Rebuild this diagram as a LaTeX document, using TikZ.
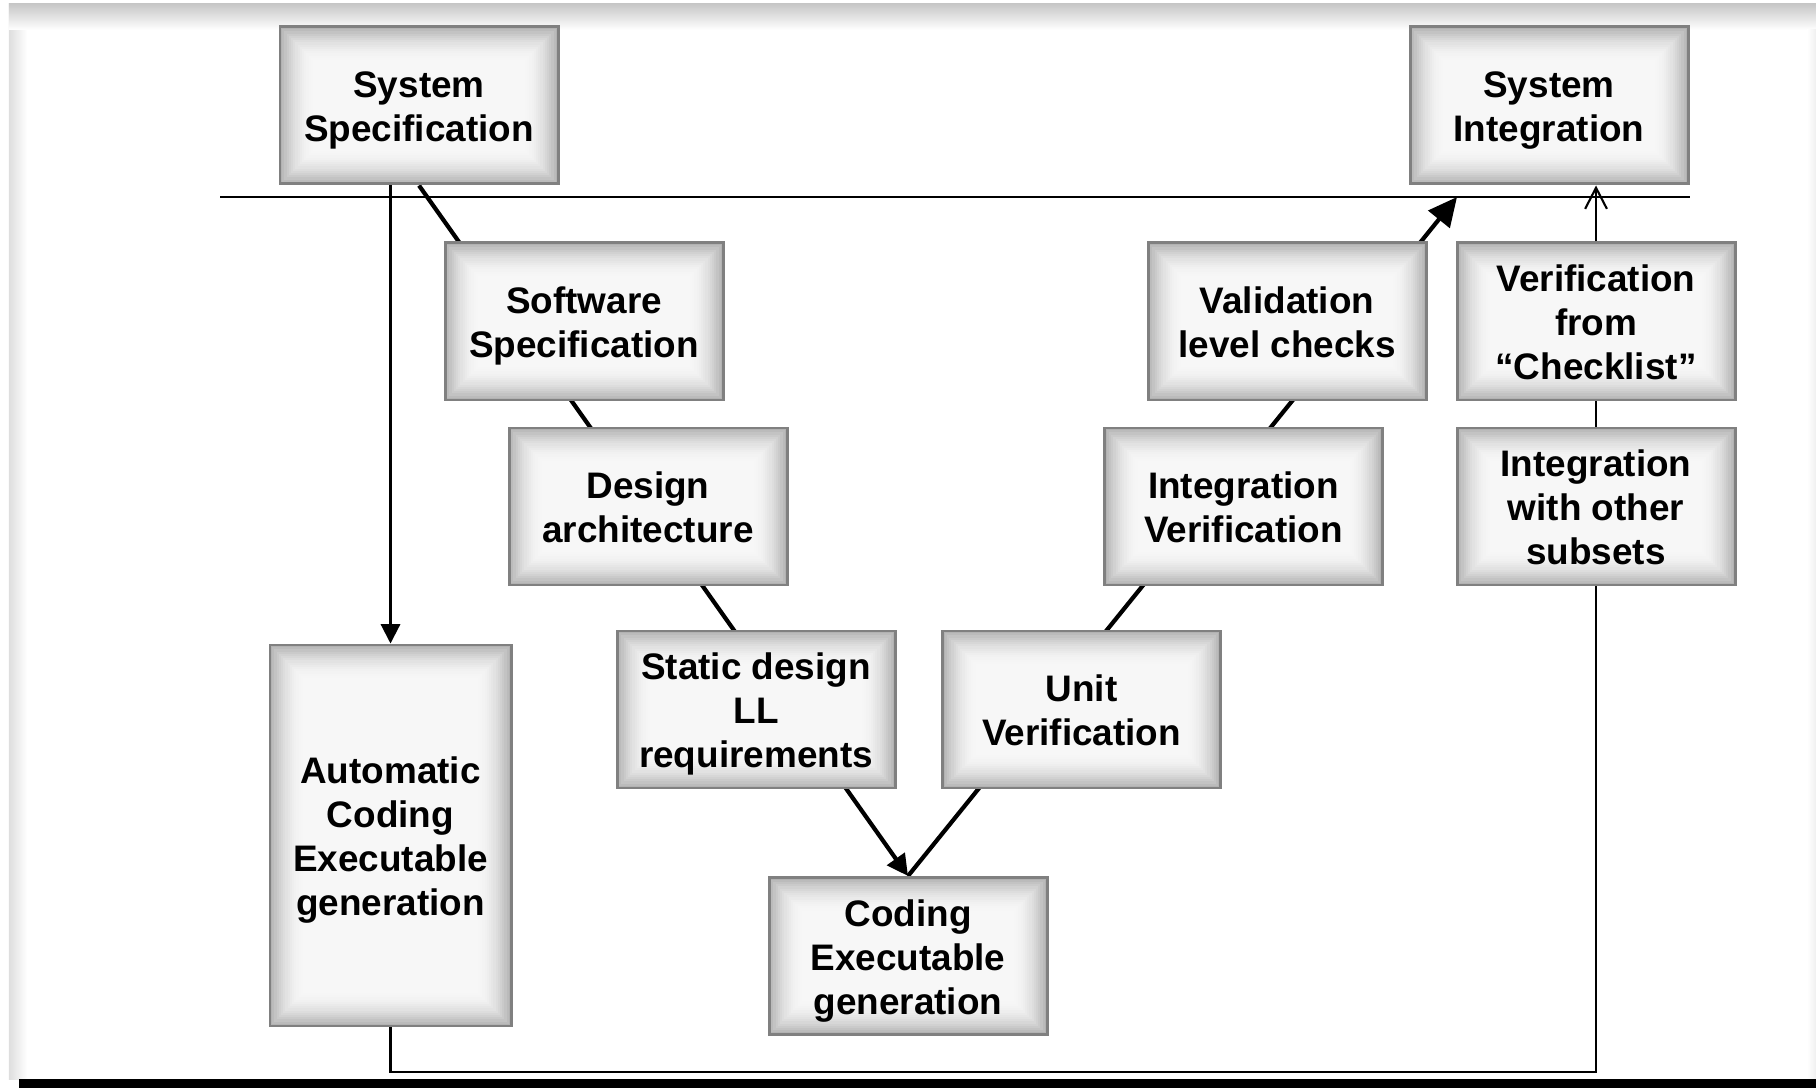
\documentclass[tikz,border=0pt]{standalone}
\usepackage{fontspec}
\setmainfont{Liberation Sans}
\usepackage{tikz}
\usetikzlibrary{arrows.meta,backgrounds}
\newcommand{\stagetext}[1]{\raisebox{-4.3pt}[0pt][0pt]{\begin{tabular}{@{}c@{}}#1\end{tabular}}}

\begin{document}
\begin{tikzpicture}[font=\fontsize{10.5}{12.5}\selectfont\bfseries,
  stage/.style={draw=black!50, line width=0.85pt, fill=black!3, minimum width=2.78cm, minimum height=1.57cm, inner sep=0pt,
    path picture={
      \foreach \k in {0,...,15} {
        \pgfmathsetmacro{\glowamt}{3+27*(1-\k/16)^2}
        \fill[black!\glowamt] ([shift={(\k*0.022,\k*0.022)}]path picture bounding box.south west) rectangle ([shift={(-\k*0.022,-\k*0.022)}]path picture bounding box.north east);
      }
    }},
  vline/.style={line width=1.2pt},
  thinline/.style={line width=0.6pt}]
\useasboundingbox (0,0) rectangle (18.16,10.88);
% frame
\shade[left color=black!13, right color=white] (0.09,0.09) rectangle (0.27,10.84);
\shade[top color=black!22, bottom color=white] (0.09,10.84) rectangle (18.16,10.58);
\shade[left color=white, right color=black!6] (18.07,0.09) rectangle (18.16,10.58);
\fill[black] (0.19,0) rectangle (18.16,0.09);

% left branch
\node[stage] (sysSpec) at (4.19,9.825) {\stagetext{System\\Specification}};
\node[stage] (swSpec) at (5.84,7.665) {\stagetext{Software\\Specification}};
\node[stage] (design) at (6.48,5.815) {\stagetext{Design\\architecture}};
\node[stage] (static) at (7.56,3.785) {\stagetext{Static design\\LL\\requirements}};
\node[stage] (coding) at (9.08,1.32) {\stagetext{Coding\\Executable\\generation}};
% right branch
\node[stage] (unit) at (10.815,3.785) {\stagetext{Unit\\Verification}};
\node[stage] (intVer) at (12.435,5.815) {\stagetext{Integration\\Verification}};
\node[stage] (valid) at (12.87,7.665) {\stagetext{Validation\\level checks}};
\node[stage] (sysInt) at (15.49,9.825) {\stagetext{System\\Integration}};
\node[stage] (checklist) at (15.96,7.665) {\stagetext{Verification\\from\\“Checklist”}};
\node[stage] (intOther) at (15.96,5.815) {\stagetext{Integration\\with other\\subsets}};
\node[stage, minimum width=2.41cm, minimum height=3.81cm] (autoCode) at (3.905,2.525) {\stagetext{Automatic\\Coding\\Executable\\generation}};

\coordinate (hL) at (2.2,8.91);
\coordinate (vTop) at (14.57,8.91);
\coordinate (loopBase) at (0,0.16);

\begin{pgfonlayer}{background}
\draw[vline, -{Triangle[width=6pt,length=6pt]}] (sysSpec.south) -- (coding.north);
\draw[vline, -{Triangle[width=7.7pt,length=8.2pt]}] (coding.north) -- (vTop);
\end{pgfonlayer}

\draw[thinline] (hL) -- (hL -| sysInt.east);
\draw[thinline, -{Triangle[width=5.5pt,length=5.5pt]}] (autoCode.north |- sysSpec.south) -- (autoCode.north);
\draw[thinline, -{Straight Barb[width=6.2pt,length=6pt]}] (checklist.north) -- (checklist.north |- sysInt.south);
\draw[thinline] (checklist.south) -- (intOther.north);
\draw[thinline] (intOther.south) -- (intOther.south |- loopBase) -| (autoCode.south);
\end{tikzpicture}
\end{document}
